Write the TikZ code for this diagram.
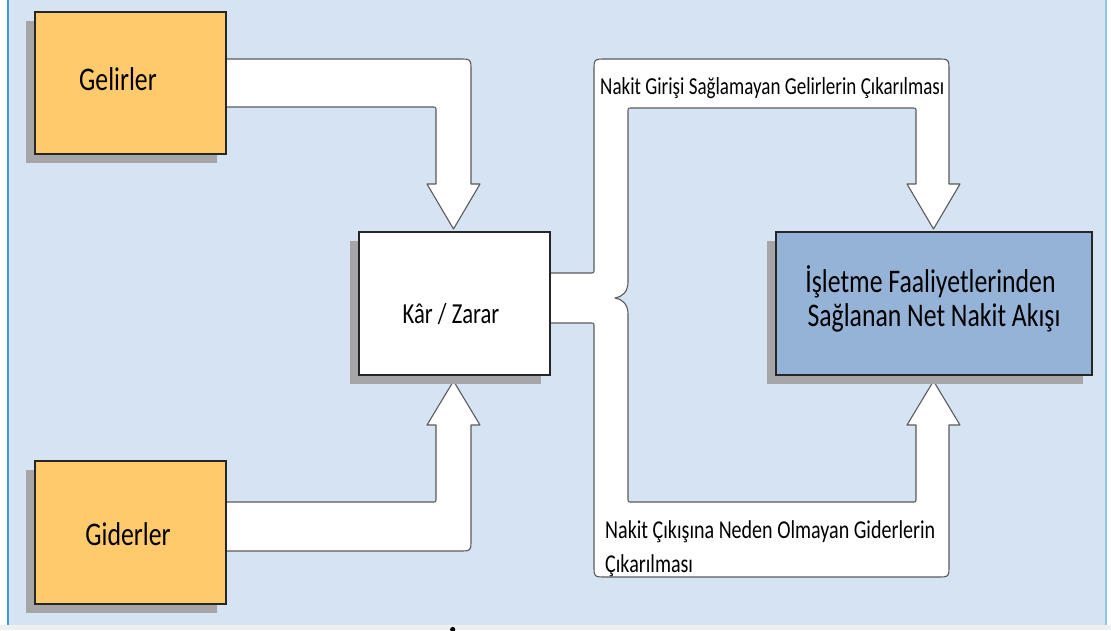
\documentclass[tikz,border=0pt]{standalone}
\usepackage{fontspec}
\usetikzlibrary{shadows}
\newfontfamily\calfont[FakeStretch=0.78]{Carlito}

\definecolor{panelbg}{HTML}{D5E3F3}
\definecolor{panelline}{HTML}{3D9BE0}
\definecolor{panelright}{HTML}{8EC3EA}
\definecolor{orangebox}{HTML}{FFCA6B}
\definecolor{bluebox}{HTML}{95B3D7}
\definecolor{shadowgrey}{HTML}{A6A6A9}
\definecolor{boxline}{HTML}{262626}
\definecolor{flowline}{HTML}{5A5A5A}
\definecolor{strip}{HTML}{EFEFEF}

\tikzset{
  box/.style={draw=boxline, line width=1.4pt, rectangle, inner sep=0pt,
    drop shadow={shadow xshift=-9pt, shadow yshift=-9pt, fill=shadowgrey, opacity=1}},
  flow/.style={draw=flowline, fill=white, line width=1.1pt, line join=round},
  bigtext/.style={font=\calfont\fontsize{33}{40}\selectfont, text=black, inner sep=0pt, anchor=base},
  midtext/.style={font=\calfont\fontsize{29}{34}\selectfont, text=black, inner sep=0pt, anchor=base},
  smalltext/.style={text=black, inner sep=0pt, anchor=base west},
}

\begin{document}
\begin{tikzpicture}[x=1pt, y=-1pt]
\useasboundingbox (0,0) rectangle (1111,630);

% page and panel
\fill[white] (0,0) rectangle (1111,630);
\fill[strip] (0,625) rectangle (1111,630);
\fill[panelbg] (8,0) rectangle (1106,625);
\draw[panelline, line width=2pt] (8,0) -- (8,625);
\draw[panelright, line width=1.5pt] (1106,0) -- (1106,625);
\fill[black] (452.7,629.5) circle (2.6);

% revenue arrow into profit/loss
\path[flow] (226,59) -- (459,59) .. controls (471,59) .. (471,71)
  -- (471,184) -- (480,184) -- (453.5,229) -- (427,184) -- (436,184)
  -- (436,111) .. controls (436,107) .. (432,107) -- (226,107) -- cycle;

% expense arrow into profit/loss
\path[flow] (226,502) -- (432,502) .. controls (436,502) .. (436,498)
  -- (436,425) -- (427,425) -- (453.5,381) -- (480,425) -- (471,425)
  -- (471,539) .. controls (471,551) .. (459,551) -- (226,551) -- cycle;

% two adjustment loops from profit/loss to net cash flow
\path[flow] (550,273) -- (590,273) .. controls (594,273) .. (594,269)
  -- (594,71) .. controls (594,59) .. (606,59)
  -- (937,59) .. controls (949,59) .. (949,71)
  -- (949,184) -- (960,184) -- (933.5,229) -- (907,184) -- (916,184)
  -- (916,112) .. controls (916,108) .. (912,108)
  -- (632,108) .. controls (628,108) .. (628,112)
  -- (628,282) .. controls (628,292) and (622,297) .. (615,298)
  .. controls (622,299) and (628,304) .. (628,314)
  -- (628,498) .. controls (628,502) .. (632,502)
  -- (912,502) .. controls (916,502) .. (916,498)
  -- (916,425) -- (907,425) -- (933.5,381) -- (960,425) -- (949,425)
  -- (949,565) .. controls (949,577) .. (937,577)
  -- (606,577) .. controls (594,577) .. (594,565)
  -- (594,327) .. controls (594,323) .. (590,323)
  -- (550,323) -- cycle;

% boxes
\node[box, fill=orangebox, minimum width=191pt, minimum height=142pt] (gelir) at (130.5,83) {};
\node[box, fill=orangebox, minimum width=191pt, minimum height=143pt] (gider) at (130.5,532.5) {};
\node[box, fill=white, minimum width=191pt, minimum height=143pt] (kar) at (454.5,303.5) {};
\node[box, fill=bluebox, minimum width=316pt, minimum height=143pt] (net) at (934,303.5) {};

% box texts
\node[bigtext] (gelirT) at (118,90) {Gelirler};
\node[bigtext] (giderT) at (128,545) {Giderler};
\node[midtext] (karT) at (451,323) {Kâr / Zarar};
\node[bigtext] (netA) at (930.5,292) {İşletme Faaliyetlerinden};
\node[bigtext] (netB) at (934,326) {Sağlanan Net Nakit Akışı};

% loop labels
\node[smalltext, font=\calfont\fontsize{24.4}{30}\selectfont] (topL) at (600,94) {Nakit Girişi Sağlamayan Gelirlerin Çıkarılması};
\node[smalltext, font=\calfont\fontsize{25.7}{30}\selectfont] (botA) at (605,538) {Nakit Çıkışına Neden Olmayan Giderlerin};
\node[smalltext, font=\calfont\fontsize{25.7}{30}\selectfont] (botB) at (605,572) {Çıkarılması};
\end{tikzpicture}
\end{document}
